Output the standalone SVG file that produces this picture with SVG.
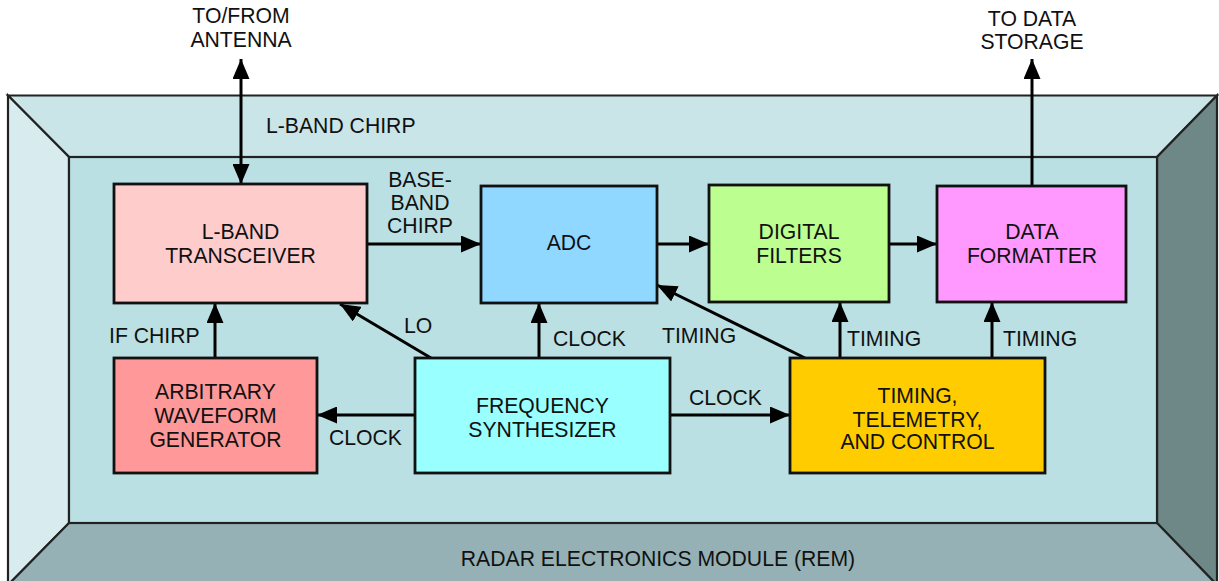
<svg xmlns="http://www.w3.org/2000/svg" width="1219" height="581" viewBox="0 0 1219 581">
<style>
text{font-family:"Liberation Sans",Arial,sans-serif;font-size:21.2px;fill:#111;text-anchor:middle}
.lbl{text-anchor:start}
.box{stroke:#111;stroke-width:2.8}
.bev{stroke:#222;stroke-width:2.2;stroke-linejoin:miter}
.con{stroke:#000;stroke-width:3;fill:none}
</style>
<defs>
<marker id="ah" viewBox="0 0 20 17" refX="20" refY="8.5" markerWidth="20" markerHeight="17" markerUnits="userSpaceOnUse" orient="auto-start-reverse">
<path d="M0,0 L20,8.5 L0,17 Z" fill="#000"/>
</marker>
</defs>
<rect width="1219" height="581" fill="#fff"/>
<g id="frame">
<polygon class="bev" points="8,95.5 1217,95.5 1157,157 69,157" fill="#c9e5e8"/>
<polygon class="bev" points="8,95.5 69,157 69,523 8,585" fill="#d8ecef"/>
<polygon class="bev" points="1217,95.5 1217,585 1157,523 1157,157" fill="#6e8787"/>
<polygon class="bev" points="69,523 1157,523 1217,585 8,585" fill="#95b1b5"/>
<rect class="bev" x="69" y="157" width="1088" height="366" fill="#bbe0e3"/>
<text x="658" y="566">RADAR ELECTRONICS MODULE (REM)</text>
</g>
<g id="connectors">
<line class="con" x1="241" y1="59" x2="241" y2="184" marker-start="url(#ah)" marker-end="url(#ah)"/>
<line class="con" x1="1032" y1="186" x2="1032" y2="59" marker-end="url(#ah)"/>
<line class="con" x1="367" y1="244" x2="481" y2="244" marker-end="url(#ah)"/>
<line class="con" x1="657" y1="244" x2="709" y2="244" marker-end="url(#ah)"/>
<line class="con" x1="889" y1="244" x2="937" y2="244" marker-end="url(#ah)"/>
<line class="con" x1="215" y1="358" x2="215" y2="303" marker-end="url(#ah)"/>
<line class="con" x1="431" y1="358" x2="340" y2="304" marker-end="url(#ah)"/>
<line class="con" x1="539" y1="358" x2="539" y2="303" marker-end="url(#ah)"/>
<line class="con" x1="805" y1="358" x2="657" y2="285" marker-end="url(#ah)"/>
<line class="con" x1="840" y1="358" x2="840" y2="302" marker-end="url(#ah)"/>
<line class="con" x1="992" y1="358" x2="992" y2="302" marker-end="url(#ah)"/>
<line class="con" x1="415" y1="415" x2="317" y2="415" marker-end="url(#ah)"/>
<line class="con" x1="670" y1="415" x2="790" y2="415" marker-end="url(#ah)"/>
<text x="241" y="23">TO/FROM</text>
<text x="241" y="47">ANTENNA</text>
<text x="1032" y="26">TO DATA</text>
<text x="1032" y="49">STORAGE</text>
<text class="lbl" x="266" y="133">L-BAND CHIRP</text>
<text x="420" y="187">BASE-</text>
<text x="420" y="210">BAND</text>
<text x="420" y="233">CHIRP</text>
<text class="lbl" x="109" y="343">IF CHIRP</text>
<text class="lbl" x="404" y="333">LO</text>
<text class="lbl" x="553" y="346">CLOCK</text>
<text class="lbl" x="662" y="343">TIMING</text>
<text class="lbl" x="847" y="346">TIMING</text>
<text class="lbl" x="1003" y="346">TIMING</text>
<text class="lbl" x="329" y="445">CLOCK</text>
<text class="lbl" x="689" y="405">CLOCK</text>
</g>
<g id="lband">
<rect class="box" x="114" y="184" width="253" height="119" fill="#ffcccc"/>
<text x="240.5" y="239">L-BAND</text>
<text x="240.5" y="263">TRANSCEIVER</text>
</g>
<g id="adc">
<rect class="box" x="481" y="186" width="176" height="117" fill="#90d8ff"/>
<text x="569" y="250">ADC</text>
</g>
<g id="filters">
<rect class="box" x="709" y="185" width="180" height="117" fill="#bcfe90"/>
<text x="799" y="239">DIGITAL</text>
<text x="799" y="263">FILTERS</text>
</g>
<g id="formatter">
<rect class="box" x="937" y="186" width="189" height="116" fill="#ff99ff"/>
<text x="1032" y="239">DATA</text>
<text x="1032" y="263">FORMATTER</text>
</g>
<g id="awg">
<rect class="box" x="114" y="358" width="203" height="115" fill="#ff9999"/>
<text x="215.5" y="399">ARBITRARY</text>
<text x="215.5" y="423">WAVEFORM</text>
<text x="215.5" y="447">GENERATOR</text>
</g>
<g id="synth">
<rect class="box" x="415" y="358" width="255" height="115" fill="#99ffff"/>
<text x="542.5" y="413">FREQUENCY</text>
<text x="542.5" y="437">SYNTHESIZER</text>
</g>
<g id="ttc">
<rect class="box" x="790" y="358" width="255" height="115" fill="#ffcc00"/>
<text x="917.5" y="403">TIMING,</text>
<text x="917.5" y="427">TELEMETRY,</text>
<text x="917.5" y="449">AND CONTROL</text>
</g>
</svg>
